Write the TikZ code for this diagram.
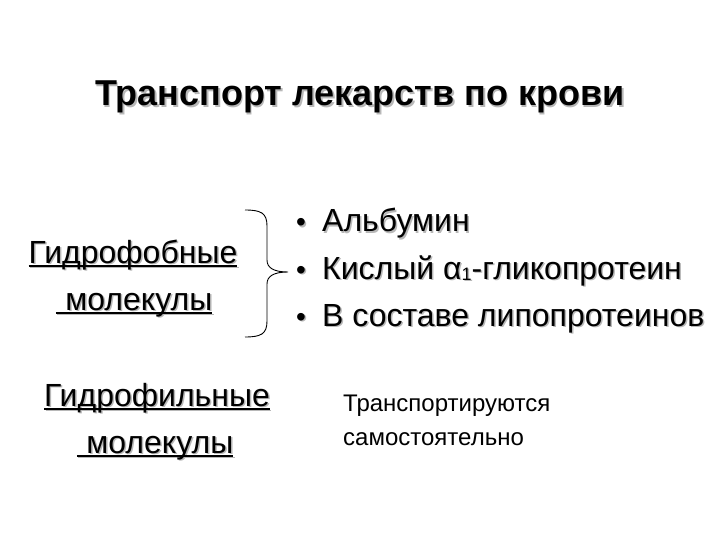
\documentclass[tikz,border=0pt]{standalone}
\usepackage{fontspec}
\setmainfont{Liberation Sans}
\newcommand\shd[1]{\leavevmode\rlap{\color{black!28}\raisebox{-1.5pt}{\kern1.5pt#1}}#1}
\newcommand\ul[1]{\setbox0\hbox{#1}\rlap{\rule[-3.5pt]{\wd0}{1.3pt}}\box0}
\tikzset{
  big/.style={anchor=base, inner sep=0pt, font=\fontsize{32}{38}\selectfont},
  item/.style={anchor=base west, inner sep=0pt, font=\fontsize{32}{38}\selectfont},
  note/.style={anchor=base west, inner sep=0pt, font=\fontsize{24}{28}\selectfont},
}

\begin{document}
\begin{tikzpicture}[x=1pt,y=-1pt]
\useasboundingbox (0,0) rectangle (720,540);
\node[anchor=base, inner sep=0pt, font=\fontsize{36}{42}\selectfont\bfseries] (title) at (360,106) {\shd{Транспорт лекарств по крови}};
% hydrophobic / hydrophilic
\node[big] (phob1) at (133,263) {\shd{\ul{Гидрофобные}}};
\node[big] (phob2) at (134,310) {\shd{\ul{\hspace{0.3em}молекулы}}};
\node[big] (phil1) at (157,406) {\shd{\ul{Гидрофильные}}};
\node[big] (phil2) at (155,453) {\shd{\ul{\hspace{0.3em}молекулы}}};
% carriers
\foreach \y/\t [count=\i] in {232/Альбумин, 279/{Кислый α\raisebox{-1pt}{\fontsize{18}{18}\selectfont 1}-гликопротеин}, 326/В составе липопротеинов}
  \node[item] (item\i) at (296,\y) {\shd{\makebox[26pt][l]{\fontsize{28}{34}\selectfont•}\t}};
% brace
\coordinate (brtop) at (245,210);
\coordinate (brtip) at (288,272);
\coordinate (brbot) at (245,337);
\draw[line width=0.9pt] (brtop) .. controls (261,210) and (267,213) .. (267,226) -- (267,260)
  .. controls (267,268) and (274,272) .. (brtip)
  .. controls (274,272) and (267,276) .. (267,284) -- (267,321)
  .. controls (267,334) and (261,337) .. (brbot);
\node[note] (note1) at (343,411) {Транспортируются};
\node[note] (note2) at (343,445) {самостоятельно};
\end{tikzpicture}
\end{document}
